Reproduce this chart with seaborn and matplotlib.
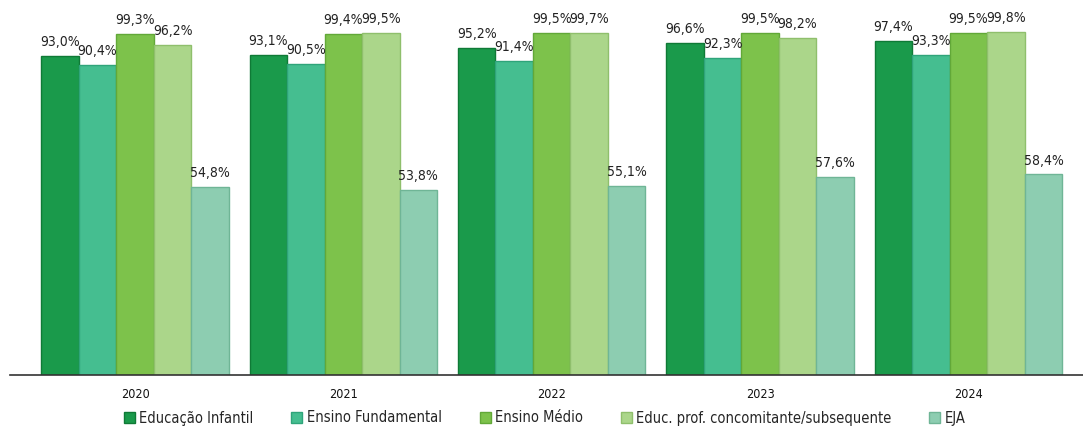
import matplotlib
matplotlib.use("Agg")
import matplotlib.pyplot as plt
import seaborn as sns
import pandas as pd
from matplotlib.patches import Patch

years = ["2020", "2021", "2022", "2023", "2024"]
categories = ["Educação Infantil", "Ensino Fundamental", "Ensino Médio",
              "Educ. prof. concomitante/subsequente", "EJA"]
educ_infantil = [93.0, 93.1, 95.2, 96.6, 97.4]
ensino_fundamental = [90.4, 90.5, 91.4, 92.3, 93.3]
ensino_medio = [99.3, 99.4, 99.5, 99.5, 99.5]
educ_prof = [96.2, 99.5, 99.7, 98.2, 99.8]
eja = [54.8, 53.8, 55.1, 57.6, 58.4]

colors = ["#1a9a4b", "#45be90", "#7dc24b", "#abd68a", "#8dcdb1"]
edges = ["#0f7a36", "#2fa47a", "#62a838", "#8fbf6c", "#6fb596"]

series = [educ_infantil, ensino_fundamental, ensino_medio, educ_prof, eja]
rows = []
for cat, vals in zip(categories, series):
    for y, v in zip(years, vals):
        rows.append({"Ano": y, "Categoria": cat, "Valor": v})
df = pd.DataFrame(rows)

sns.set_theme(style="white")
plt.rcParams["font.family"] = ["DejaVu Sans"]
plt.rcParams["font.stretch"] = "condensed"

fig = plt.figure(figsize=(10.83, 4.30), dpi=100)
ax = fig.add_axes([10 / 1083, 55 / 430, 1 - 10 / 1083, 375 / 430])

sns.barplot(data=df, x="Ano", y="Valor", hue="Categoria", order=years,
            hue_order=categories, palette=colors, width=0.9, gap=0,
            errorbar=None, ax=ax, legend=False, saturation=1)

for i, container in enumerate(ax.containers):
    for patch in container:
        patch.set_edgecolor(edges[i])
        patch.set_linewidth(1.0)
    ax.bar_label(container, labels=[f"{v:.1f}%".replace(".", ",") for v in series[i]],
                 padding=5, fontsize=10, color="#222222", fontstretch="condensed")

ax.set_ylim(0, 109.2)
ax.set_xlim(-0.6, 4.55)
ax.set_xlabel("")
ax.set_ylabel("")
ax.set_yticks([])
for s in ["left", "right", "top"]:
    ax.spines[s].set_visible(False)
ax.spines["bottom"].set_color("#333333")
ax.spines["bottom"].set_linewidth(1.2)
ax.tick_params(axis="x", length=0, pad=9, labelsize=9, colors="#111111")

handles = [Patch(facecolor=c, edgecolor=e, label=l) for c, e, l in zip(colors, edges, categories)]
fig.legend(handles=handles, loc="center", bbox_to_anchor=(0.503, 12 / 430), ncol=5,
           frameon=False, fontsize=10.5, handlelength=0.75, handleheight=0.75,
           handletextpad=0.3, columnspacing=2.6)

fig.savefig("out.png", dpi=100)
